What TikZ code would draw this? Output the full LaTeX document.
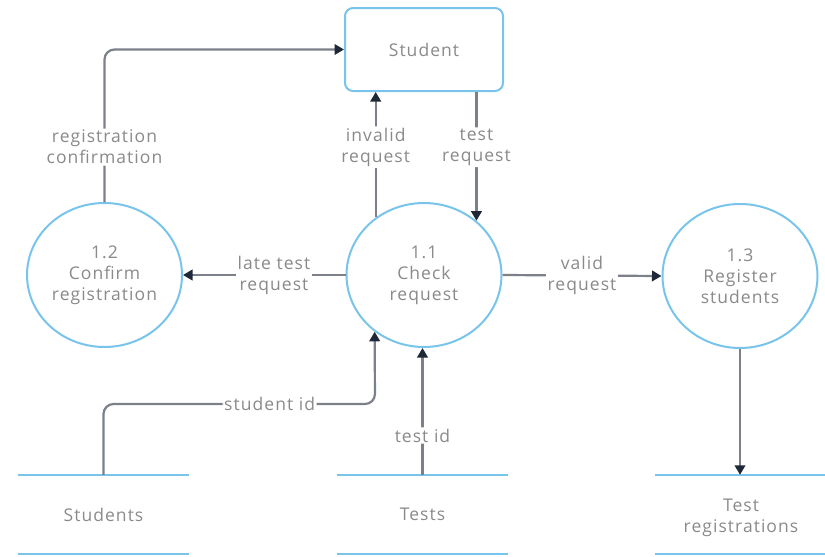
\documentclass[tikz,border=0pt]{standalone}
\usepackage{fontspec}
\setmainfont{Open Sans}[LetterSpace=6]
\usetikzlibrary{shapes.geometric,arrows.meta,calc}

\definecolor{procblue}{HTML}{78C4EA}
\definecolor{flowgray}{HTML}{7B8089}
\definecolor{tipnavy}{HTML}{1E2838}
\definecolor{textgray}{HTML}{8A8A8A}

\begin{document}
\begin{tikzpicture}[x=1pt,y=-1pt,
  font=\fontsize{17.5}{21}\selectfont, text=textgray,
  proc/.style={ellipse, draw=procblue, line width=2pt, minimum width=155pt,
    minimum height=144pt, inner sep=0pt, align=center, fill=white},
  entity/.style={rectangle, rounded corners=8pt, draw=procblue, line width=2pt,
    minimum width=158pt, minimum height=83pt, inner sep=0pt, fill=white},
  store/.style={rectangle, minimum width=171pt, minimum height=79pt,
    inner sep=0pt, align=center},
  storeline/.style={procblue, line width=2pt},
  flow/.style={flowgray, line width=2.2pt, rounded corners=10pt,
    -{Triangle[length=9.5pt,width=10.5pt,color=tipnavy]}},
  lbl/.style={fill=white, inner sep=1.5pt, align=center, text=textgray}
]
\useasboundingbox (0,0) rectangle (825,557);

% external entity and processes
\node[entity] (student) at (424,49.5) {Student};
\node[proc] (p11) at (424,275) {1.1\\Check\\request};
\node[proc] (p12) at (104.5,275) {1.2\\Confirm\\registration};
\node[proc] (p13) at (740,276) {1.3\\Register\\students};

% data stores
\node[store] (ds1) at (103.5,514.5) {Students};
\node[store] (ds2) at (422.5,514.5) {Tests};
\node[store] (ds3) at (741,514.5) {};
\node[align=center, inner sep=0pt] (ds3text) at (741,518) {Test\\registrations};
\foreach \s in {ds1,ds2,ds3}
  \draw[storeline] (\s.north west) -- (\s.north east)
                   (\s.south west) -- (\s.south east);

% data flows
\draw[flow] (p12.north) |- node[lbl, pos=0.18] {registration\\confirmation} (student.west);
\draw[flow] (p11.130.9) -- node[lbl, pos=0.56] {invalid\\request} (p11.130.9 |- student.south);
\draw[flow] (student.south -| p11.46.2) -- node[lbl, pos=0.43] {test\\request} (p11.46.2);
\draw[flow] (p11.west) -- node[lbl, pos=0.44] {late test\\request} (p12.east);
\draw[flow] (p11.east) -- node[lbl, pos=0.5] {valid\\request} (p13.west);
\coordinate (sidbend) at (375,404);
\draw[flow] (ds1.north) |- node[lbl, pos=0.806] {student id} (sidbend) -- (p11.229.1);
\draw[flow] (ds2.north) -- node[lbl, pos=0.31] {test id} (ds2.north |- p11.south);
\draw[flow] (p13.south) -- (p13.south |- ds3.north);
\end{tikzpicture}
\end{document}
